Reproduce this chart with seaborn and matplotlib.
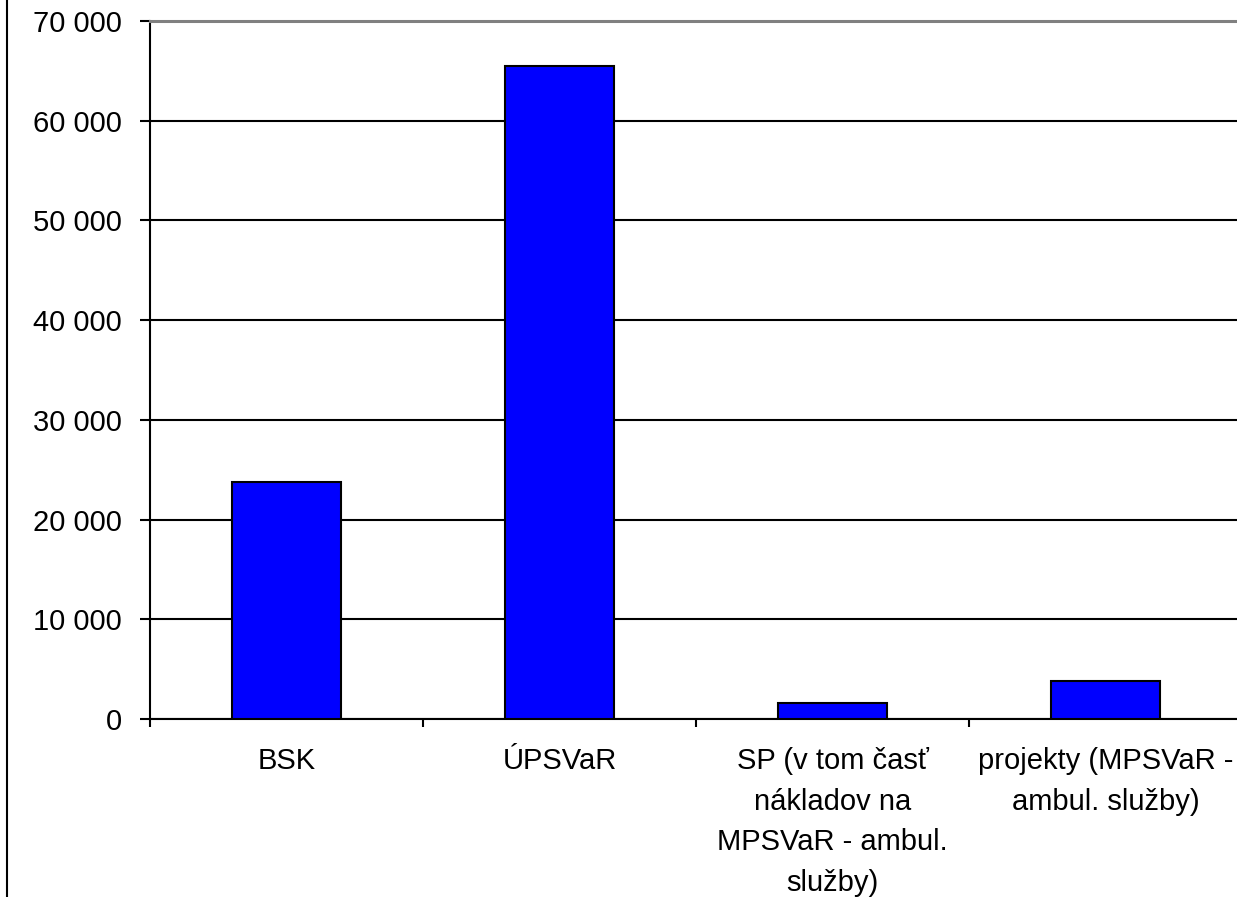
import matplotlib
matplotlib.use("Agg")
import matplotlib.pyplot as plt
from matplotlib.lines import Line2D
from matplotlib.ticker import FuncFormatter, FixedLocator
import seaborn as sns
import pandas as pd

categories = ["BSK", "ÚPSVaR", "SP (v tom časť\nnákladov na\nMPSVaR - ambul.\nslužby)",
              "projekty (MPSVaR -\nambul. služby)"]
values = [23800, 65500, 1650, 3850]
y_ticks = [0, 10000, 20000, 30000, 40000, 50000, 60000, 70000]

df = pd.DataFrame({"kategoria": categories, "hodnota": values})

sns.set_style("white")
plt.rcParams["font.family"] = ["Liberation Sans", "DejaVu Sans"]
plt.rcParams["text.color"] = "black"
plt.rcParams["xtick.color"] = "black"
plt.rcParams["ytick.color"] = "black"

fig = plt.figure(figsize=(12.37, 8.97), dpi=100)
ax = fig.add_axes([150 / 1237, (897 - 719) / 897, (1242 - 150) / 1237, (719 - 21) / 897])

sns.barplot(data=df, x="kategoria", y="hodnota", color="#0000ff", saturation=1,
            edgecolor="black", linewidth=1.5, width=0.4, ax=ax, zorder=3)

ax.set_xlim(-0.5, 3.5)
ax.set_ylim(0, 70000)
ax.set_yticks(y_ticks)
ax.yaxis.set_major_formatter(FuncFormatter(lambda v, p: f"{int(v):,}".replace(",", " ")))
ax.grid(axis="y", color="black", linewidth=1.5, zorder=0)
ax.set_axisbelow(True)

# category ticks sit on the boundaries, labels in the middle
ax.xaxis.set_major_locator(FixedLocator([-0.5, 0.5, 1.5, 2.5, 3.5]))
ax.xaxis.set_major_formatter(FuncFormatter(lambda v, p: ""))
ax.xaxis.set_minor_locator(FixedLocator([0, 1, 2, 3]))
ax.set_xticklabels(categories, minor=True)
ax.tick_params(axis="x", which="major", bottom=True, direction="out", length=6, width=1.5,
               color="black")
ax.tick_params(axis="x", which="minor", bottom=True, length=0, pad=20, labelsize=21,
               labelcolor="black")
ax.tick_params(axis="y", left=True, direction="out", length=7, width=1.5, color="black",
               pad=13, labelsize=21, labelcolor="black")
for lbl in ax.get_xticklabels(minor=True):
    lbl.set_linespacing(1.58)
    lbl.set_verticalalignment("top")

ax.set_xlabel("")
ax.set_ylabel("")
for s in ["left", "bottom"]:
    ax.spines[s].set_color("black")
    ax.spines[s].set_linewidth(1.5)
ax.spines["top"].set_color("#808080")
ax.spines["top"].set_linewidth(2.2)
ax.spines["top"].set_zorder(4)
ax.spines["right"].set_visible(False)

fig.add_artist(Line2D([7.5 / 1237, 7.5 / 1237], [0, 1], color="black", linewidth=1.5,
                      transform=fig.transFigure))

fig.savefig("out.png", dpi=100)
